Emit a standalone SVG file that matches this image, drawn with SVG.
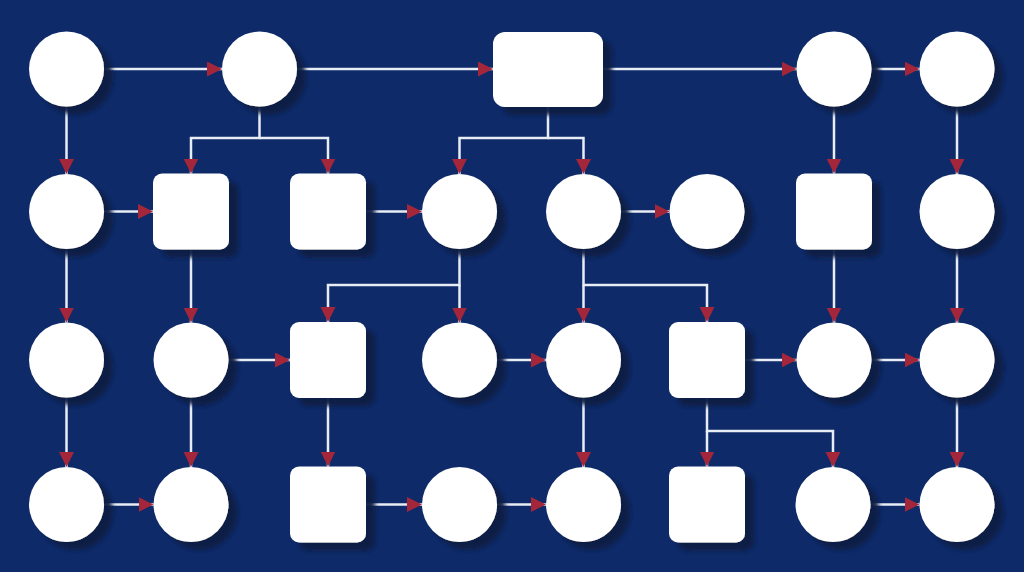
<svg xmlns="http://www.w3.org/2000/svg" width="1024" height="572" viewBox="0 0 1024 572">
<style>
.n{fill:#ffffff;filter:url(#sh)}
.c{fill:none;stroke:#e8ecf4;stroke-width:2.5;marker-end:url(#ah)}
</style>
<defs>
<filter id="sh" x="-30%" y="-30%" width="170%" height="170%">
<feDropShadow dx="9" dy="8" stdDeviation="2" flood-color="#081a44" flood-opacity="0.95"/>
</filter>
<marker id="ah" markerUnits="userSpaceOnUse" markerWidth="16" markerHeight="16" refX="15" refY="7.5" orient="auto">
<path d="M0,0 L15,7.5 L0,15 z" fill="#a3263b"/>
</marker>
</defs>
<rect width="1024" height="572" fill="#0e2a68"/>
<g id="connectors">
<path class="c" d="M104,69 H222"/>
<path class="c" d="M297,69 H493"/>
<path class="c" d="M603,69 H796.5"/>
<path class="c" d="M871.5,69 H919.5"/>
<path class="c" d="M66.5,106.5 V174"/>
<path class="c" d="M259.5,106.5 V138 H191 V173.5"/>
<path class="c" d="M259.5,138 H328 V173.5"/>
<path class="c" d="M548,106.5 V138 H459.5 V174"/>
<path class="c" d="M548,138 H583.5 V174"/>
<path class="c" d="M834,106.5 V173.5"/>
<path class="c" d="M957,106.5 V174"/>
<path class="c" d="M104,211.5 H153"/>
<path class="c" d="M366,211.5 H422"/>
<path class="c" d="M621,211.5 H669.5"/>
<path class="c" d="M66.5,249 V322.5"/>
<path class="c" d="M191,249.5 V322.5"/>
<path class="c" d="M459.5,249 V285 H328 V322"/>
<path class="c" d="M459.5,285 V322.5"/>
<path class="c" d="M583.5,249 V285 H707 V322"/>
<path class="c" d="M583.5,285 V322.5"/>
<path class="c" d="M834,249.5 V322.5"/>
<path class="c" d="M957,249 V322.5"/>
<path class="c" d="M229,360 H290"/>
<path class="c" d="M497,360 H546"/>
<path class="c" d="M745,360 H796.5"/>
<path class="c" d="M871.5,360 H919.5"/>
<path class="c" d="M66.5,397.5 V467"/>
<path class="c" d="M191,397.5 V467"/>
<path class="c" d="M328,398 V466.5"/>
<path class="c" d="M583.5,397.5 V467"/>
<path class="c" d="M707,398 V431 H833 V467"/>
<path class="c" d="M707,431 V466.5"/>
<path class="c" d="M957,397.5 V467"/>
<path class="c" d="M104,504.5 H153.5"/>
<path class="c" d="M366,504.5 H422"/>
<path class="c" d="M497,504.5 H546"/>
<path class="c" d="M871.5,504.5 H919.5"/>
</g>
<g id="r1c1"><circle class="n" cx="66.5" cy="69" r="37.5"/></g>
<g id="r1c2"><circle class="n" cx="259.5" cy="69" r="37.5"/></g>
<g id="r1rect"><rect class="n" x="493" y="32" width="110" height="75" rx="12"/></g>
<g id="r1c7"><circle class="n" cx="834" cy="69" r="37.5"/></g>
<g id="r1c8"><circle class="n" cx="957" cy="69" r="37.5"/></g>

<g id="r2c1"><circle class="n" cx="66.5" cy="211.5" r="37.5"/></g>
<g id="r2c2"><rect class="n" x="153" y="173.5" width="76" height="76" rx="9"/></g>
<g id="r2c3"><rect class="n" x="290" y="173.5" width="76" height="76" rx="9"/></g>
<g id="r2c4"><circle class="n" cx="459.5" cy="211.5" r="37.5"/></g>
<g id="r2c5"><circle class="n" cx="583.5" cy="211.5" r="37.5"/></g>
<g id="r2c6"><circle class="n" cx="707" cy="211.5" r="37.5"/></g>
<g id="r2c7"><rect class="n" x="796" y="173.5" width="76" height="76" rx="9"/></g>
<g id="r2c8"><circle class="n" cx="957" cy="211.5" r="37.5"/></g>

<g id="r3c1"><circle class="n" cx="66.5" cy="360" r="37.5"/></g>
<g id="r3c2"><circle class="n" cx="191" cy="360" r="37.5"/></g>
<g id="r3c3"><rect class="n" x="290" y="322" width="76" height="76" rx="9"/></g>
<g id="r3c4"><circle class="n" cx="459.5" cy="360" r="37.5"/></g>
<g id="r3c5"><circle class="n" cx="583.5" cy="360" r="37.5"/></g>
<g id="r3c6"><rect class="n" x="669" y="322" width="76" height="76" rx="9"/></g>
<g id="r3c7"><circle class="n" cx="834" cy="360" r="37.5"/></g>
<g id="r3c8"><circle class="n" cx="957" cy="360" r="37.5"/></g>

<g id="r4c1"><circle class="n" cx="66.5" cy="504.5" r="37.5"/></g>
<g id="r4c2"><circle class="n" cx="191" cy="504.5" r="37.5"/></g>
<g id="r4c3"><rect class="n" x="290" y="466.5" width="76" height="76" rx="9"/></g>
<g id="r4c4"><circle class="n" cx="459.5" cy="504.5" r="37.5"/></g>
<g id="r4c5"><circle class="n" cx="583.5" cy="504.5" r="37.5"/></g>
<g id="r4c6"><rect class="n" x="669" y="466.5" width="76" height="76" rx="9"/></g>
<g id="r4c7"><circle class="n" cx="833" cy="504.5" r="37.5"/></g>
<g id="r4c8"><circle class="n" cx="957" cy="504.5" r="37.5"/></g>
</svg>
